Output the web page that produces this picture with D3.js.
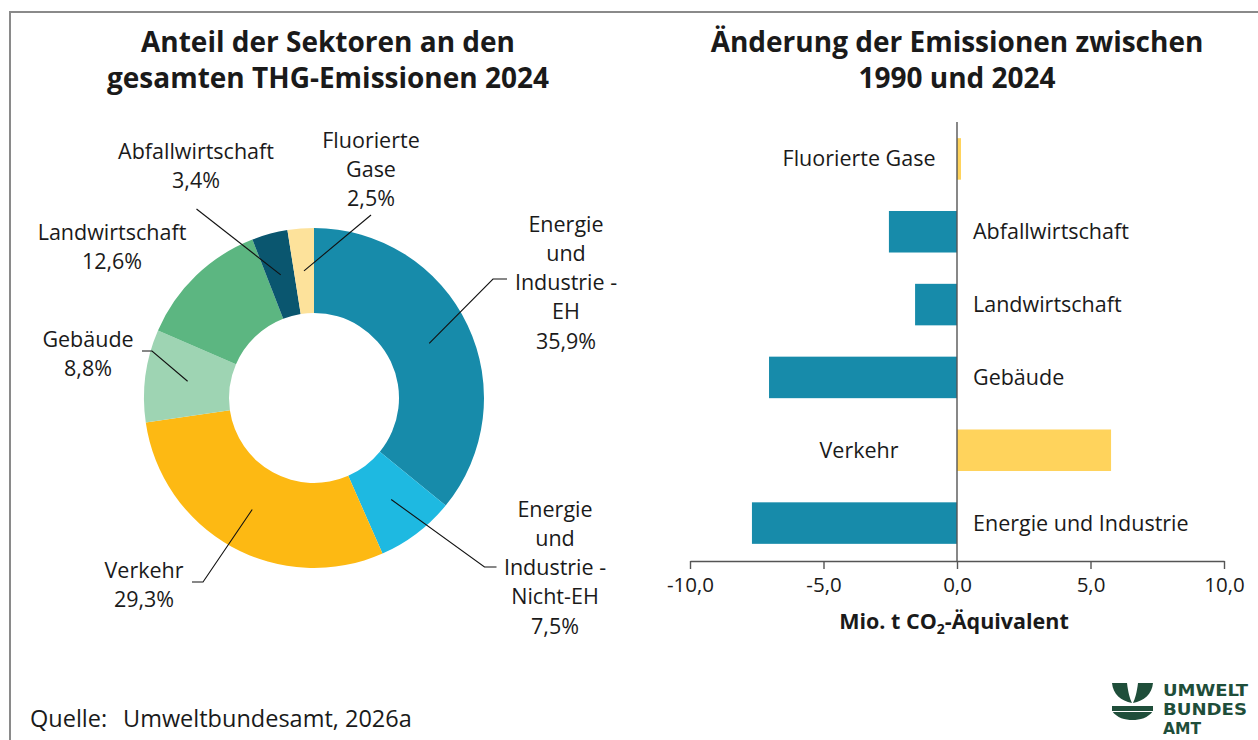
<!DOCTYPE html>
<html>
<head>
<meta charset="utf-8">
<script src="https://cdn.jsdelivr.net/npm/d3@7/dist/d3.min.js"></script>
<style>
  html, body { margin: 0; padding: 0; background: #fff; }
  svg { display: block; font-family: "Open Sans", "Noto Sans", sans-serif; }
</style>
</head>
<body>
<svg id="chart" width="1258" height="740"></svg>
<script>
// ---------------- DATA ----------------
// Donut: share of sectors in total GHG emissions 2024 (%)
const donutCategories = ["Energie und Industrie - EH", "Energie und Industrie - Nicht-EH", "Verkehr", "Gebäude", "Landwirtschaft", "Abfallwirtschaft", "Fluorierte Gase"];
const donutValues = [35.9, 7.5, 29.3, 8.8, 12.6, 3.4, 2.5];
const donutLabelLines = [
  ["Energie", "und", "Industrie -", "EH", "35,9%"],
  ["Energie", "und", "Industrie -", "Nicht-EH", "7,5%"],
  ["Verkehr", "29,3%"],
  ["Gebäude", "8,8%"],
  ["Landwirtschaft", "12,6%"],
  ["Abfallwirtschaft", "3,4%"],
  ["Fluorierte", "Gase", "2,5%"]
];
const donutColors = ["#178BAA", "#1EB9E1", "#FDB913", "#9ED4B3", "#5CB681", "#0A566F", "#FDE29B"];

// Bars: change of emissions between 1990 and 2024 (Mio. t CO2-eq.)
const barCategories = ["Fluorierte Gase", "Abfallwirtschaft", "Landwirtschaft", "Gebäude", "Verkehr", "Energie und Industrie"];
const barValues = [0.15, -2.55, -1.57, -7.04, 5.77, -7.68];
const barTicks = [-10, -5, 0, 5, 10];

// ---------------- LAYOUT ----------------
const svg = d3.select("#chart");
const ink = "#1a1a1a";
const labelSize = 21.5;

// frame
svg.append("rect").attr("x", 10).attr("y", 12).attr("width", 1300).attr("height", 800)
  .attr("fill", "none").attr("stroke", "#8a8a8a").attr("stroke-width", 2);

// titles
function title(lines, cx) {
  const t = svg.append("text").attr("text-anchor", "middle").attr("font-weight", 700)
    .attr("font-size", 28).attr("fill", ink);
  lines.forEach((l, i) => t.append("tspan").attr("x", cx).attr("y", 52 + i * 36).text(l));
}
title(["Anteil der Sektoren an den", "gesamten THG-Emissionen 2024"], 328);
title(["Änderung der Emissionen zwischen", "1990 und 2024"], 957);

// ---------------- DONUT ----------------
const cx = 314, cy = 398, R = 170, r = 85;
const g = svg.append("g").attr("transform", `translate(${cx},${cy})`);
const pie = d3.pie().sort(null).value(d => d)(donutValues);
const arc = d3.arc().innerRadius(r).outerRadius(R);
g.selectAll("path.slice").data(pie).join("path").attr("class", "slice")
  .attr("d", arc).attr("fill", (d, i) => donutColors[i]);

// label layout (absolute page positions): text centre x, first line centre y, leader path points
const labelLayout = [
  { x: 566, y: 224, pts: [[493, 279], [507, 279]] },
  { x: 555, y: 509, pts: [[484.5, 567], [496.5, 567]] },
  { x: 144, y: 570, pts: [[203, 582], [192, 582]] },
  { x: 88,  y: 339, pts: [[152, 351], [142, 351]] },
  { x: 112, y: 232, pts: null },
  { x: 196, y: 151, pts: [[196.5, 209]] },
  { x: 371, y: 140, pts: [[371, 215]] }
];
const lineH = 29.3;
pie.forEach((d, i) => {
  const L = labelLayout[i];
  if (L.pts) {
    const c = arc.centroid(d);
    const pts = [[cx + c[0], cy + c[1]]].concat(L.pts);
    svg.append("path").attr("d", d3.line()(pts)).attr("fill", "none")
      .attr("stroke", "#111").attr("stroke-width", 1.1);
  }
  const t = svg.append("text").attr("text-anchor", "middle").attr("font-size", labelSize).attr("fill", ink);
  donutLabelLines[i].forEach((s, k) =>
    t.append("tspan").attr("x", L.x).attr("y", L.y + k * lineH).attr("dy", "0.35em").text(s));
});

// ---------------- BARS ----------------
const x = d3.scaleLinear().domain([barTicks[0], barTicks[barTicks.length - 1]]).range([690, 1224]);
const y = d3.scaleBand().domain(barCategories).range([122.5, 559.5]).paddingInner(0.43).paddingOuter(0.215);

svg.append("g").selectAll("rect").data(barValues).join("rect")
  .attr("x", d => x(Math.min(0, d)))
  .attr("width", d => Math.abs(x(d) - x(0)))
  .attr("y", (d, i) => y(barCategories[i]))
  .attr("height", y.bandwidth())
  .attr("fill", d => d >= 0 ? "#FFD35C" : "#178BAA");

// zero line
svg.append("line").attr("x1", x(0)).attr("x2", x(0)).attr("y1", 122).attr("y2", 561)
  .attr("stroke", "#555").attr("stroke-width", 1.4);

// category labels
svg.append("g").selectAll("text").data(barCategories).join("text")
  .attr("x", (d, i) => barValues[i] >= 0 ? x(0) - 98 : x(0) + 16)
  .attr("text-anchor", (d, i) => barValues[i] >= 0 ? "middle" : "start")
  .attr("y", d => y(d) + y.bandwidth() / 2).attr("dy", "0.35em")
  .attr("font-size", labelSize).attr("fill", ink).text(d => d);

// axis
const axis = svg.append("g").attr("transform", "translate(0,561)")
  .call(d3.axisBottom(x).tickValues(barTicks).tickSize(8).tickSizeOuter(0).tickPadding(8)
    .tickFormat(d => d3.format(".1f")(d).replace("−", "-").replace(".", ",")));
axis.select(".domain").attr("stroke", "#555").attr("stroke-width", 1.4);
axis.selectAll(".tick line").attr("stroke", "#555").attr("stroke-width", 1.4);
axis.selectAll(".tick text").attr("font-size", 20.5).attr("fill", ink)
  .attr("font-family", "Open Sans, sans-serif");

const at = svg.append("text").attr("x", 954).attr("y", 629).attr("text-anchor", "middle")
  .attr("font-weight", 700).attr("font-size", 21.5).attr("fill", ink);
at.append("tspan").text("Mio. t CO");
at.append("tspan").attr("font-size", 14).attr("dy", 5).text("2");
at.append("tspan").attr("dy", -5).text("-Äquivalent");

// ---------------- FOOTER ----------------
svg.append("text").attr("x", 30).attr("y", 727).attr("font-size", 23.5).attr("fill", ink).text("Quelle:");
svg.append("text").attr("x", 123).attr("y", 727).attr("font-size", 23.5).attr("fill", ink).text("Umweltbundesamt, 2026a");

// logo
const logo = svg.append("g").attr("fill", "#1F4E3A");
logo.append("path").attr("d", "M1112,683 L1127,683 C1128,692 1130,699 1132,703 C1121,701 1113,694 1112,683 Z");
logo.append("path").attr("d", "M1153,683 L1138,683 C1137,692 1135,699 1133,703 C1144,701 1152,694 1153,683 Z");
logo.append("path").attr("d", "M1112,706 H1153 V711 C1148,718 1140,720 1132.5,720 C1125,720 1117,718 1112,711 Z");
logo.append("line").attr("x1", 1112).attr("x2", 1153).attr("y1", 711.5).attr("y2", 711.5)
  .attr("stroke", "#fff").attr("stroke-width", 1.2);
[["UMWELT", 696.5, 85], ["BUNDES", 715.5, 84], ["AMT", 734.5, 38]].forEach(([s, by, w]) => {
  logo.append("text").attr("x", 1163).attr("y", by).attr("font-size", 14.5).attr("font-weight", 700)
    .attr("font-family", "Liberation Sans Narrow, DejaVu Sans Condensed, Arial Narrow, sans-serif")
    .attr("transform", `translate(0,${by}) scale(1,1.15) translate(0,${-by})`)
    .attr("textLength", w).attr("lengthAdjust", "spacingAndGlyphs").text(s);
});
</script>
</body>
</html>
